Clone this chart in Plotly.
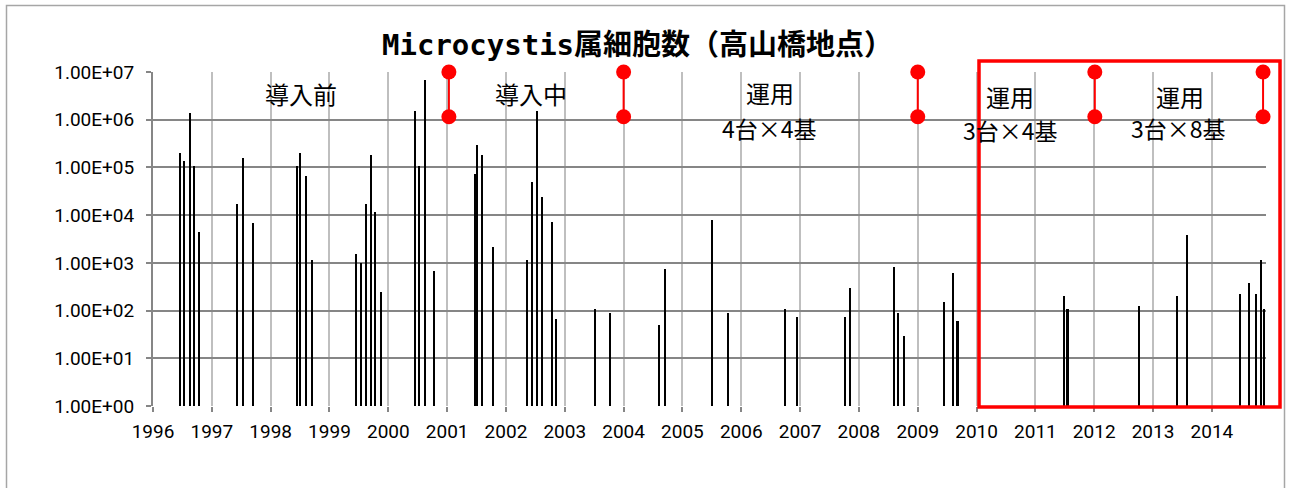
import plotly.graph_objects as go

# ---- data ----
sample_years = [
    1996.47, 1996.53, 1996.63, 1996.70, 1996.79,
    1997.44, 1997.54, 1997.70,
    1998.45, 1998.51, 1998.61, 1998.71,
    1999.45, 1999.54, 1999.62, 1999.71, 1999.78, 1999.88,
    2000.46, 2000.52, 2000.62, 2000.78,
    2001.47, 2001.52, 2001.59, 2001.79,
    2002.37, 2002.44, 2002.54, 2002.61, 2002.79, 2002.86,
    2003.51, 2003.77,
    2004.61, 2004.71,
    2005.51, 2005.78,
    2006.75, 2006.95,
    2007.76, 2007.86,
    2008.60, 2008.67, 2008.77,
    2009.45, 2009.61, 2009.68,
    2011.49, 2011.55,
    2012.76,
    2013.41, 2013.58,
    2014.48, 2014.64, 2014.76, 2014.84, 2014.895,
]
cell_counts = [
    2.0e5, 1.37e5, 1.37e6, 1.05e5, 4.5e3,
    1.7e4, 1.6e5, 6.8e3,
    1.05e5, 2.0e5, 6.6e4, 1.15e3,
    1.5e3, 980, 1.7e4, 1.8e5, 1.15e4, 245,
    1.5e6, 1.05e5, 6.8e6, 680,
    7.3e4, 2.9e5, 1.8e5, 2.2e3,
    1.15e3, 5.0e4, 1.5e6, 2.4e4, 7.3e3, 66,
    107, 88,
    51, 740,
    7.9e3, 88,
    107, 74,
    74, 295,
    810, 88, 29,
    154, 605, 61,
    203, 107,
    126,
    203, 3.8e3,
    219, 385, 219, 1.15e3, 107,
]

year_ticks = list(range(1996, 2015))
year_labels = [str(y) for y in year_ticks]
y_ticks = [1, 10, 100, 1e3, 1e4, 1e5, 1e6, 1e7]
y_labels = ["1.00E+00", "1.00E+01", "1.00E+02", "1.00E+03",
            "1.00E+04", "1.00E+05", "1.00E+06", "1.00E+07"]

# period boundaries (red markers) and their vertical extent
boundary_years = [2001.03, 2004.0, 2009.0, 2012.01, 2014.87]
boundary_top = 1.0e7
boundary_bottom = 1.15e6

# period labels
period_line1 = ["導入前", "導入中", "運用", "運用", "運用"]
period_line2 = ["", "", "4台×4基", "3台×4基", "3台×8基"]

title_text = "Microcystis属細胞数（高山橋地点）"

# ---- figure ----
W, H = 1291, 488
L, R, T, B = 153, 25, 72, 82
X0, X1 = 1996.0, 2014.92
pw = W - L - R
ph = H - T - B


def px_x(px):
    return (px - L) / pw


def px_y(py):
    return (H - B - py) / ph


fig = go.Figure()

fig.add_trace(go.Bar(
    x=sample_years, y=cell_counts, width=0.026,
    marker=dict(color="black", line=dict(width=0)),
    showlegend=False, hoverinfo="x+y",
))

bx, by = [], []
for yr in boundary_years:
    bx += [yr, yr, None]
    by += [boundary_top, boundary_bottom, None]
fig.add_trace(go.Scatter(
    x=bx, y=by, mode="lines+markers",
    line=dict(color="#ff0000", width=2),
    marker=dict(color="#ff0000", size=15),
    cliponaxis=False, showlegend=False, hoverinfo="skip",
))

shapes = []
# white label boxes that hide gridlines (pixel boxes)
boxes = [(220, 385, 74, 113), (458, 612, 74, 113), (687, 853, 74, 141),
         (930, 1088, 74, 145), (1104, 1262, 74, 143)]
for x0, x1, y0, y1 in boxes:
    shapes.append(dict(type="rect", xref="paper", yref="paper",
                       x0=px_x(x0), x1=px_x(x1), y0=px_y(y1), y1=px_y(y0),
                       fillcolor="white", line=dict(width=0), layer="between"))
# red highlight rectangle
shapes.append(dict(type="rect", xref="paper", yref="paper",
                   x0=px_x(979), x1=px_x(1280), y0=px_y(407), y1=px_y(61),
                   line=dict(color="#ff0000", width=3.5), layer="above"))
# outer chart border
shapes.append(dict(type="rect", xref="paper", yref="paper",
                   x0=px_x(6.5), x1=px_x(1284.5), y0=px_y(498), y1=px_y(5.5),
                   line=dict(color="#a6a6a6", width=1.5), layer="above"))

annotations = []
jp_font = "Noto Sans CJK JP"
line1_y = [94, 93, 92, 96, 96]
line2_y = [None, None, 128, 130, 128]
line1_x = [301, 531, 770, 1010, 1180]
line2_x = [None, None, 769, 1010, 1178]
for i in range(len(period_line1)):
    annotations.append(dict(xref="paper", yref="paper",
                            x=px_x(line1_x[i]), y=px_y(line1_y[i]),
                            text=period_line1[i], showarrow=False,
                            xanchor="center", yanchor="middle",
                            font=dict(family=jp_font, size=24, color="black")))
    if period_line2[i]:
        annotations.append(dict(xref="paper", yref="paper",
                                x=px_x(line2_x[i]), y=px_y(line2_y[i]),
                                text=period_line2[i], showarrow=False,
                                xanchor="center", yanchor="middle",
                                font=dict(family=jp_font, size=23, color="black")))
annotations.append(dict(xref="paper", yref="paper",
                        x=px_x(637), y=px_y(45), text="<b>" + title_text + "</b>",
                        showarrow=False, xanchor="center", yanchor="middle",
                        font=dict(family="DejaVu Sans Mono, Noto Sans CJK JP",
                                  size=29, color="black")))

tick_font = dict(family="Roboto, sans-serif", size=19, color="black")

fig.update_layout(
    width=W, height=H,
    margin=dict(l=L, r=R, t=T, b=B),
    paper_bgcolor="white", plot_bgcolor="white",
    shapes=shapes, annotations=annotations,
    bargap=0,
    xaxis=dict(
        range=[X0, X1], tickmode="array", tickvals=year_ticks, ticktext=year_labels,
        showgrid=True, gridcolor="#bfbfbf", gridwidth=2,
        showline=False, zeroline=False,
        ticks="outside", ticklen=5, tickcolor="#868686", tickwidth=2,
        tickfont=tick_font, ticklabelstandoff=3,
    ),
    yaxis=dict(
        type="log", range=[0, 7], tickmode="array", tickvals=y_ticks, ticktext=y_labels,
        showgrid=True, gridcolor="#868686", gridwidth=2,
        showline=True, linecolor="#868686", linewidth=2,
        ticks="outside", ticklen=5, tickcolor="#868686", tickwidth=2,
        tickfont=tick_font, ticklabelstandoff=8,
    ),
)

fig.write_html(
    "out.html",
    config={"displayModeBar": False},
    post_script="document.body.style.margin='0';document.body.style.overflow='hidden';",
)
